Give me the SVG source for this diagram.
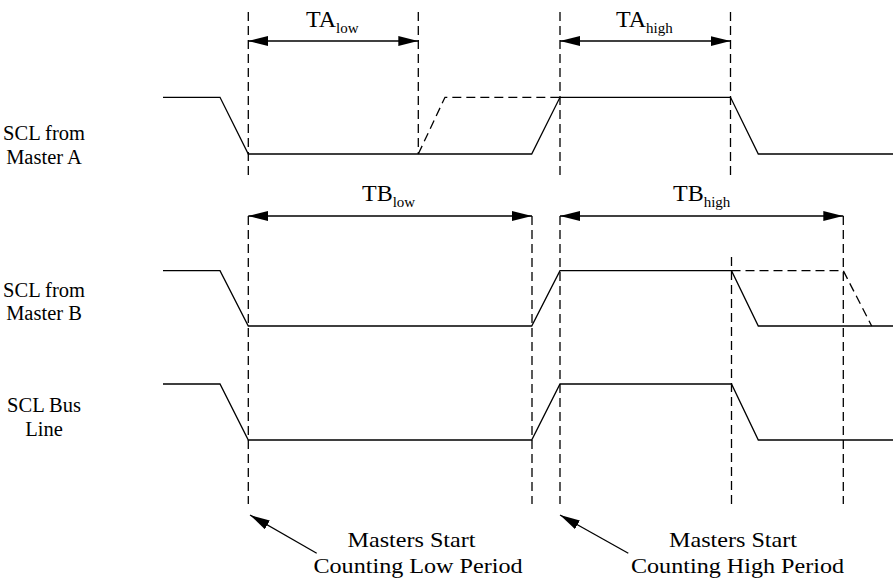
<svg xmlns="http://www.w3.org/2000/svg" width="893" height="582" viewBox="0 0 893 582" font-family="'Liberation Serif', 'DejaVu Serif', serif">
<style>
text{font-family:"Liberation Serif","DejaVu Serif",serif;fill:#000}
.lbl{font-size:20.5px;text-anchor:middle}
.note{font-size:21px;text-anchor:middle}
.big{font-size:24px}
.sub{font-size:15px}
.sig{fill:none;stroke:#000;stroke-width:1.3}
.dsig{fill:none;stroke:#000;stroke-width:1.3;stroke-dasharray:9,5}
.vd{fill:none;stroke:#000;stroke-width:1.3;stroke-dasharray:9,5}
.dim{fill:none;stroke:#000;stroke-width:1.3;marker-start:url(#ah);marker-end:url(#ah)}
.ann{fill:none;stroke:#000;stroke-width:1.3;marker-end:url(#ah)}
</style>
<defs>
<marker id="ah" viewBox="0 0 20 10" refX="20" refY="5" markerWidth="20" markerHeight="10" markerUnits="userSpaceOnUse" orient="auto-start-reverse">
<path d="M0,0 L20,5 L0,10 Z" fill="#000"/>
</marker>
</defs>
<rect width="893" height="582" fill="#fff"/>

<g id="labels">
<g id="label-a"><text class="lbl" x="44" y="140">SCL from</text><text class="lbl" x="44" y="164">Master A</text></g>
<g id="label-b"><text class="lbl" x="44" y="297">SCL from</text><text class="lbl" x="44" y="320">Master B</text></g>
<g id="label-bus"><text class="lbl" x="44" y="412">SCL Bus</text><text class="lbl" x="44" y="436">Line</text></g>
</g>

<g id="signal-a">
<polyline class="sig" points="163,97.3 220,97.3 248.3,154 531.7,154 560,97.3 730.5,97.3 758.3,154 893,154"/>
<polyline class="dsig" points="418.3,154 445,97.3 560,97.3"/>
</g>
<g id="signal-b">
<polyline class="sig" points="163,270.7 220,270.7 248.3,326 531.7,326 560,270.7 731.5,270.7 758.3,326 893,326"/>
<polyline class="dsig" points="731.5,270.7 843.3,270.7 871.7,326"/>
</g>
<g id="signal-bus">
<polyline class="sig" points="163,384 220,384 248.3,440 531.7,440 560,384 731.5,384 758.3,440 893,440"/>
</g>

<g id="connectors">
<line class="vd" x1="248.3" y1="12" x2="248.3" y2="175"/>
<line class="vd" x1="418.3" y1="12" x2="418.3" y2="154"/>
<line class="vd" x1="560" y1="12" x2="560" y2="175"/>
<line class="vd" x1="730.5" y1="12" x2="730.5" y2="175"/>
<line class="vd" x1="248.3" y1="216" x2="248.3" y2="504"/>
<line class="vd" x1="532" y1="216" x2="532" y2="504"/>
<line class="vd" x1="560" y1="216" x2="560" y2="504"/>
<line class="vd" x1="731.5" y1="257" x2="731.5" y2="504"/>
<line class="vd" x1="843.3" y1="216" x2="843.3" y2="504"/>
<line class="dim" x1="248.3" y1="41" x2="418.3" y2="41"/>
<line class="dim" x1="560" y1="41" x2="730.5" y2="41"/>
<line class="dim" x1="248.3" y1="216" x2="532" y2="216"/>
<line class="dim" x1="560" y1="216" x2="843.3" y2="216"/>
<line class="ann" x1="316.7" y1="553.3" x2="250" y2="515"/>
<line class="ann" x1="628.3" y1="553.3" x2="560" y2="515"/>
</g>

<g id="dim-labels">
<g id="ta-low"><text x="306" y="27" class="big">TA<tspan class="sub" dy="6">low</tspan></text></g>
<g id="ta-high"><text x="616" y="27" class="big">TA<tspan class="sub" dy="6">high</tspan></text></g>
<g id="tb-low"><text x="362" y="201" class="big">TB<tspan class="sub" dy="6">low</tspan></text></g>
<g id="tb-high"><text x="673" y="201" class="big">TB<tspan class="sub" dy="6">high</tspan></text></g>
</g>

<g id="note-low">
<text class="note" transform="translate(411.5,547) scale(1.15,1)">Masters Start</text>
<text class="note" transform="translate(418,573) scale(1.15,1)">Counting Low Period</text>
</g>
<g id="note-high">
<text class="note" transform="translate(733,547) scale(1.15,1)">Masters Start</text>
<text class="note" transform="translate(737.5,573) scale(1.15,1)">Counting High Period</text>
</g>
</svg>
